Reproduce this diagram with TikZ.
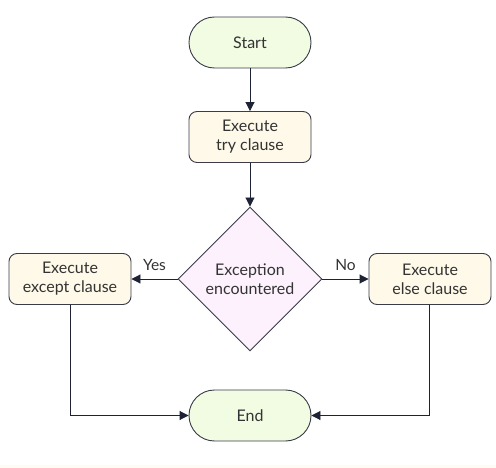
\documentclass[tikz,border=0pt]{standalone}
\usepackage{fontspec}
\setmainfont{Lato}
\usetikzlibrary{shapes.geometric,arrows.meta}
\definecolor{termfill}{HTML}{F1FCE3}
\definecolor{boxfill}{HTML}{FEF9E8}
\definecolor{decfill}{HTML}{FCF1FC}
\definecolor{strokec}{HTML}{3A3C4A}
\definecolor{arrowc}{HTML}{1E2235}
\definecolor{textc}{HTML}{333333}
\definecolor{bandc}{HTML}{FFFBEF}
\tikzset{
  x=1pt,y=-1pt,
  every node/.style={font=\fontsize{16}{19}\selectfont, text=textc, align=center},
  term/.style={draw=strokec, line width=0.9pt, fill=termfill, rounded corners=25.5pt, minimum width=122pt, minimum height=51pt, inner sep=0pt},
  procbox/.style={draw=strokec, line width=0.9pt, fill=boxfill, rounded corners=8pt, minimum width=122pt, minimum height=51pt, inner sep=0pt},
  decision/.style={draw=strokec, line width=0.9pt, fill=decfill, diamond, minimum width=144pt, minimum height=144pt, inner sep=0pt},
  conn/.style={draw=arrowc, line width=0.9pt, -{Triangle[length=9pt,width=9pt]}},
  lbl/.style={font=\fontsize{15.5}{18}\selectfont}
}
\begin{document}
\begin{tikzpicture}
\useasboundingbox (0,0) rectangle (496,468);
\fill[bandc] (0,465) rectangle (496,468);
\node[term] (start) at (250,42.5) {Start};
\node[procbox] (try) at (250,137) {Execute\\try clause};
\node[decision] (exc) at (250,279) {Exception\\encountered};
\node[procbox] (except) at (70,279) {Execute\\except clause};
\node[procbox] (else) at (430,279) {Execute\\else clause};
\node[term] (end) at (250,415.5) {End};
\coordinate (cl) at (70,415.5);
\coordinate (cr) at (429,415.5);
\draw[conn] (start) -- (try);
\draw[conn] (try) -- (exc);
\draw[conn] (exc.west) -- (except.east) node[lbl, midway, above=5pt] {Yes};
\draw[conn] (exc.east) -- (else.west) node[lbl, midway, above=5pt] {No};
\draw[conn] (except.south) -- (cl) -- (end.west);
\draw[conn] (else.south -| cr) -- (cr) -- (end.east);
\end{tikzpicture}
\end{document}
